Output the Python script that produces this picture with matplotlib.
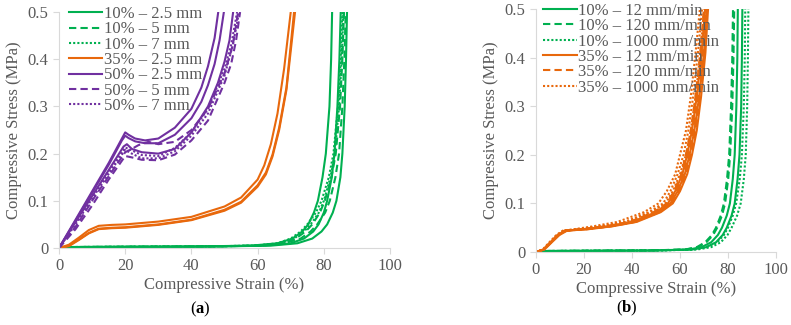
import matplotlib
matplotlib.use("Agg")
import matplotlib.pyplot as plt

plt.rcParams['font.family'] = ['Liberation Serif', 'DejaVu Serif']
plt.rcParams['mathtext.fontset'] = 'custom'
plt.rcParams['mathtext.rm'] = 'Liberation Serif'
plt.rcParams['mathtext.bf'] = 'Liberation Serif:bold'

GREEN = '#00B050'
ORANGE = '#E8680C'
PURPLE = '#7030A0'
GREY = '#595959'
SPINE = '#D9D9D9'

x_ticks = [0, 20, 40, 60, 80, 100]
x_ticklabels = ['0', '20', '40', '60', '80', '100']
y_ticks = [0, 0.1, 0.2, 0.3, 0.4, 0.5]
y_ticklabels = ['0', '0.1', '0.2', '0.3', '0.4', '0.5']

# ---------- panel (a): cell size ----------
# green 10% foams: strain (%) read at fixed stress levels (MPa)
a_green_stress = [0, 0.002, 0.003, 0.005, 0.01, 0.02, 0.035, 0.05, 0.075, 0.1, 0.15, 0.2, 0.3, 0.4, 0.5]
a_g25_1 = [0, 2, 38, 58, 66, 70.5, 73.5, 75.3, 77, 78.2, 79.6, 80.6, 81.7, 82.2, 82.5]
a_g25_2 = [0, 2, 42, 62, 70, 74, 76.8, 78.4, 80, 81, 82.4, 83.2, 84.1, 84.7, 85.1]
a_g25_3 = [0, 2, 45, 64, 72, 76.5, 79.3, 81, 82.7, 83.8, 85, 85.6, 86.3, 86.7, 87.0]
a_g5_1 = [0, 2, 40, 60, 67, 71.5, 74.5, 76.5, 78.8, 80.3, 82.3, 83.6, 84.9, 85.6, 86.1]
a_g5_2 = [0, 2, 42, 61, 68, 73, 76, 78, 80.4, 81.8, 83.5, 84.6, 85.6, 86.2, 86.6]
a_g7_1 = [0, 2, 40, 59, 66, 70, 73, 75, 77.6, 79.3, 81.5, 82.9, 84.3, 85.1, 85.6]
a_g7_2 = [0, 2, 41, 60, 67, 71, 74, 76, 78.5, 80, 82, 83.3, 84.6, 85.4, 85.9]

# orange 35% - 2.5 mm
a_o_x1 = [0, 3, 6, 9, 12, 16, 20, 30, 40, 50, 55, 60, 62, 64, 66, 68, 70]
a_o_y1 = [0, 0.007, 0.022, 0.038, 0.047, 0.049, 0.05, 0.056, 0.066, 0.088, 0.107, 0.145, 0.175, 0.22, 0.285, 0.38, 0.5]
a_o_x2 = [0, 3, 6, 9, 12, 16, 20, 30, 40, 50, 55, 60, 62.5, 64.5, 66.5, 68.7, 71]
a_o_y2 = [0, 0.005, 0.018, 0.032, 0.041, 0.043, 0.044, 0.05, 0.06, 0.081, 0.098, 0.133, 0.16, 0.198, 0.255, 0.34, 0.5]
a_o_x3 = [0, 3, 6, 9, 12, 16, 20, 30, 40, 50, 55, 60, 62.5, 64.5, 66.5, 68.7, 71.3]
a_o_y3 = [0, 0.004, 0.017, 0.031, 0.04, 0.042, 0.043, 0.049, 0.059, 0.079, 0.096, 0.13, 0.156, 0.194, 0.25, 0.335, 0.5]

# purple 50% foams
a_p25_x1 = [0, 5, 10, 15, 19, 20, 21, 23, 26, 30, 35, 40, 43, 45, 47, 48.1]
a_p25_y1 = [0, 0.06, 0.12, 0.18, 0.232, 0.245, 0.24, 0.232, 0.228, 0.232, 0.255, 0.295, 0.34, 0.385, 0.445, 0.5]
a_p25_x2 = [0, 5, 10, 15, 19, 20, 21, 23, 26, 30, 35, 40, 43, 45, 47, 48.5, 49.8]
a_p25_y2 = [0, 0.058, 0.117, 0.176, 0.228, 0.238, 0.233, 0.226, 0.222, 0.222, 0.24, 0.275, 0.31, 0.345, 0.39, 0.44, 0.5]
a_p25_x3 = [0, 5, 10, 15, 19.5, 20.5, 22, 25, 30, 35, 40, 45, 48, 50, 51.5, 52.6]
a_p25_y3 = [0, 0.055, 0.11, 0.165, 0.215, 0.22, 0.21, 0.203, 0.2, 0.21, 0.245, 0.3, 0.35, 0.395, 0.44, 0.5]
a_p5_x1 = [0, 5, 10, 15, 20, 22, 25, 30, 35, 40, 45, 50, 52, 53.5, 54.7]
a_p5_y1 = [0, 0.04, 0.09, 0.145, 0.195, 0.192, 0.187, 0.186, 0.198, 0.228, 0.27, 0.35, 0.39, 0.44, 0.5]
a_p5_x2 = [0, 5, 10, 15, 20, 22, 24, 27, 30, 35, 40, 45, 50, 52.5, 54.1]
a_p5_y2 = [0, 0.045, 0.1, 0.152, 0.203, 0.21, 0.218, 0.225, 0.22, 0.225, 0.25, 0.295, 0.37, 0.43, 0.5]
a_p7_x1 = [0, 5, 10, 15, 20, 22, 25, 30, 35, 40, 45, 50, 52, 53.8]
a_p7_y1 = [0, 0.055, 0.11, 0.163, 0.213, 0.207, 0.197, 0.195, 0.212, 0.245, 0.295, 0.38, 0.43, 0.5]
a_p7_x2 = [0, 5, 10, 15, 20, 22, 25, 30, 35, 40, 45, 50, 52.5, 54.4]
a_p7_y2 = [0, 0.05, 0.105, 0.157, 0.208, 0.2, 0.19, 0.19, 0.205, 0.238, 0.285, 0.365, 0.43, 0.5]

# ---------- panel (b): strain rate ----------
b_orange_stress = [0, 0.005, 0.02, 0.035, 0.044, 0.047, 0.053, 0.062, 0.082, 0.1, 0.125, 0.16, 0.2, 0.25, 0.32, 0.41, 0.5]
b_o12_1 = [0, 3, 6, 9, 12, 20, 30, 40, 50, 55, 58, 61, 63, 65, 67, 69, 70.5]
b_o12_2 = [0, 3.2, 6.3, 9.4, 12.5, 21, 31, 41, 51, 56, 59, 62, 64, 66, 68, 70, 71.2]
b_o12_3 = [0, 3.5, 6.6, 9.8, 13, 22, 32, 42, 52, 57, 60, 63, 65, 67, 68.8, 70.6, 71.7]
b_o120_1 = [0, 3, 6, 9, 12, 19, 29, 39, 49, 54.5, 57.5, 60.5, 62.5, 64.5, 66.5, 68.5, 70]
b_o120_2 = [0, 3.3, 6.4, 9.5, 12.6, 21.5, 31.5, 41.5, 51.5, 56.5, 59.5, 62.5, 64.5, 66.5, 68.5, 70.3, 71.3]
b_o120_3 = [0, 3.1, 6.2, 9.2, 12.2, 20, 30, 40, 50, 55.5, 58.5, 61.5, 63.5, 65.5, 67.5, 69.5, 70.8]
b_o1000_1 = [0, 2.8, 5.6, 8.5, 11.2, 16, 24, 34, 45, 51, 54.5, 58, 60, 62.5, 64.5, 66.5, 68.3]
b_o1000_2 = [0, 3, 5.8, 8.8, 11.6, 18, 27, 37, 47, 53, 56, 59, 61.5, 63.5, 65.5, 67.5, 69.2]
b_o1000_3 = [0, 3, 6, 9, 12, 19, 28, 38, 48, 54, 57, 60, 62.5, 64.5, 66.5, 68.5, 70]

b_green_stress = [0, 0.002, 0.003, 0.005, 0.01, 0.02, 0.035, 0.05, 0.075, 0.1, 0.15, 0.2, 0.3, 0.4, 0.5]
b_g12_1 = [0, 2, 46, 63.5, 69, 73, 75.8, 77.5, 79.5, 80.8, 82, 82.8, 83.5, 83.9, 84.1]
b_g12_2 = [0, 2, 48, 65, 71, 75, 77.8, 79.5, 81.5, 82.8, 84, 84.8, 85.5, 85.8, 86]
b_g120_1 = [0, 2, 44, 62, 67, 70.5, 73.3, 75, 77, 78.3, 79.6, 80.5, 81.3, 81.8, 82.1]
b_g120_2 = [0, 2, 45, 62.5, 67.5, 71, 73.8, 75.5, 77.5, 78.8, 80.1, 80.9, 81.8, 82.3, 82.6]
b_g1000_1 = [0, 2, 47, 65, 71, 75.5, 78.3, 80, 82, 83.4, 84.9, 85.8, 86.6, 87, 87.2]
b_g1000_2 = [0, 2, 50, 67, 73, 77, 79.8, 81.5, 83.8, 85.3, 86.6, 87.4, 88, 88.3, 88.5]

SOLID = '-'
DASH = (0, (3.5, 2))
DOT = (0, (1, 1))
LW = 1.5

fig = plt.figure(figsize=(7.91, 3.25), dpi=100)
ax1 = fig.add_axes([0.0746, 0.2369, 0.4185, 0.726])
ax2 = fig.add_axes([0.6776, 0.2246, 0.3034, 0.7477])

# panel a
ax1.plot(a_g25_1, a_green_stress, color=GREEN, ls=SOLID, lw=LW, label='10% – 2.5 mm')
ax1.plot(a_g25_2, a_green_stress, color=GREEN, ls=SOLID, lw=LW)
ax1.plot(a_g25_3, a_green_stress, color=GREEN, ls=SOLID, lw=LW)
ax1.plot(a_g5_1, a_green_stress, color=GREEN, ls=DASH, lw=LW, label='10% – 5 mm')
ax1.plot(a_g5_2, a_green_stress, color=GREEN, ls=DASH, lw=LW)
ax1.plot(a_g7_1, a_green_stress, color=GREEN, ls=DOT, lw=LW, label='10% – 7 mm')
ax1.plot(a_g7_2, a_green_stress, color=GREEN, ls=DOT, lw=LW)
ax1.plot(a_o_x1, a_o_y1, color=ORANGE, ls=SOLID, lw=LW, label='35% – 2.5 mm')
ax1.plot(a_o_x2, a_o_y2, color=ORANGE, ls=SOLID, lw=LW)
ax1.plot(a_o_x3, a_o_y3, color=ORANGE, ls=SOLID, lw=LW)
ax1.plot(a_p25_x1, a_p25_y1, color=PURPLE, ls=SOLID, lw=LW, label='50% – 2.5 mm')
ax1.plot(a_p25_x2, a_p25_y2, color=PURPLE, ls=SOLID, lw=LW)
ax1.plot(a_p25_x3, a_p25_y3, color=PURPLE, ls=SOLID, lw=LW)
ax1.plot(a_p5_x1, a_p5_y1, color=PURPLE, ls=DASH, lw=LW, label='50% – 5 mm')
ax1.plot(a_p5_x2, a_p5_y2, color=PURPLE, ls=DASH, lw=LW)
ax1.plot(a_p7_x1, a_p7_y1, color=PURPLE, ls=DOT, lw=LW, label='50% – 7 mm')
ax1.plot(a_p7_x2, a_p7_y2, color=PURPLE, ls=DOT, lw=LW)

# panel b
ax2.plot(b_g12_1, b_green_stress, color=GREEN, ls=SOLID, lw=LW, label='10% – 12 mm/min')
ax2.plot(b_g12_2, b_green_stress, color=GREEN, ls=SOLID, lw=LW)
ax2.plot(b_g120_1, b_green_stress, color=GREEN, ls=DASH, lw=LW, label='10% – 120 mm/min')
ax2.plot(b_g120_2, b_green_stress, color=GREEN, ls=DASH, lw=LW)
ax2.plot(b_g1000_1, b_green_stress, color=GREEN, ls=DOT, lw=LW, label='10% – 1000 mm/min')
ax2.plot(b_g1000_2, b_green_stress, color=GREEN, ls=DOT, lw=LW)
ax2.plot(b_o12_1, b_orange_stress, color=ORANGE, ls=SOLID, lw=LW, label='35% – 12 mm/min')
ax2.plot(b_o12_2, b_orange_stress, color=ORANGE, ls=SOLID, lw=LW)
ax2.plot(b_o12_3, b_orange_stress, color=ORANGE, ls=SOLID, lw=LW)
ax2.plot(b_o120_1, b_orange_stress, color=ORANGE, ls=DASH, lw=LW, label='35% – 120 mm/min')
ax2.plot(b_o120_2, b_orange_stress, color=ORANGE, ls=DASH, lw=LW)
ax2.plot(b_o120_3, b_orange_stress, color=ORANGE, ls=DASH, lw=LW)
ax2.plot(b_o1000_1, b_orange_stress, color=ORANGE, ls=DOT, lw=LW, label='35% – 1000 mm/min')
ax2.plot(b_o1000_2, b_orange_stress, color=ORANGE, ls=DOT, lw=LW)
ax2.plot(b_o1000_3, b_orange_stress, color=ORANGE, ls=DOT, lw=LW)

for ax in (ax1, ax2):
    ax.set_xlim(0, 100)
    ax.set_ylim(0, 0.5)
    ax.set_xticks(x_ticks)
    ax.set_xticklabels(x_ticklabels)
    ax.set_yticks(y_ticks)
    ax.set_yticklabels(y_ticklabels)
    ax.spines['top'].set_visible(False)
    ax.spines['right'].set_visible(False)
    ax.spines['left'].set_color(SPINE)
    ax.spines['bottom'].set_color(SPINE)
    ax.tick_params(direction='out', length=4, color=SPINE, labelcolor=GREY, labelsize=12)
    ax.set_xlabel('Compressive Strain (%)', color=GREY, fontsize=12, labelpad=2)
    ax.set_ylabel('Compressive Stress (MPa)', color=GREY, fontsize=12, labelpad=4)
    leg = ax.legend(loc='upper left', frameon=False, fontsize=12, handlelength=2.0,
                    handletextpad=0.1, labelspacing=-0.04, borderaxespad=0.0,
                    borderpad=0.0, bbox_to_anchor=(0.03, 1.025))
    for t in leg.get_texts():
        t.set_color(GREY)

fig.text(200 / 791, 1 - 309 / 325, r'($\mathbf{a}$)', ha='center', va='center', fontsize=12)
fig.text(627 / 791, 1 - 308 / 325, r'($\mathbf{b}$)', ha='center', va='center', fontsize=12)

fig.savefig('out.png', dpi=100)
